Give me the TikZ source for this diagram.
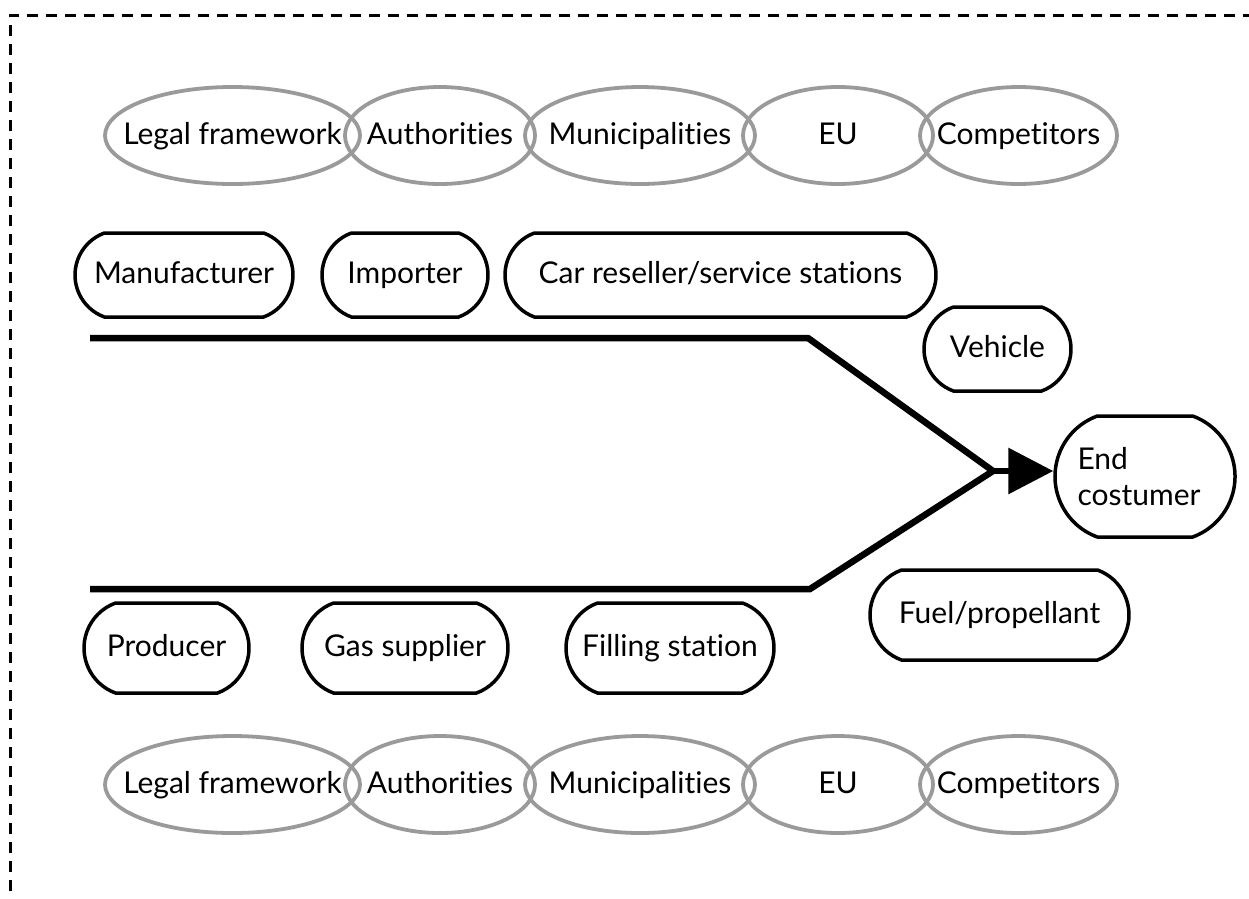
\documentclass[tikz,border=0pt]{standalone}
\usepackage{fontspec}
\setmainfont{Lato}[Ligatures=NoCommon]
\usepackage{xcolor}
\usepackage{tikz}
\usetikzlibrary{positioning, arrows.meta, shapes.geometric, shapes.misc}
\definecolor{ringgray}{HTML}{9A9A9A}
\newcommand{\nowidth}[1]{\makebox[0pt]{#1}}
\tikzset{
  party/.style={ellipse, draw=ringgray, line width=3.8pt, inner sep=0pt, minimum height=97pt,
                text height=22pt, text depth=4pt},
  actorbase/.style={rounded rectangle, rounded rectangle arc length=140, draw, line width=3.5pt,
                inner xsep=2pt, minimum height=84pt},
  actor/.style={actorbase, text height=22pt, text depth=6pt},
  flow/.style={line width=6.5pt, line join=miter}
}

\begin{document}
\begin{tikzpicture}[x=1pt, y=-1pt, font=\fontsize{30}{36}\selectfont]
    \useasboundingbox (0,0) rectangle (1249,898);
    \draw[line width=3pt, dash pattern=on 11pt off 8pt] (10,910) |- (1260,15);

    \foreach \row/\y in {top/135.5, bottom/784.5}{
      \node[party, minimum width=255pt] (legal-\row) at (232.5,\y) {\nowidth{Legal framework}};
      \node[party, minimum width=190pt] (authorities-\row) at (440,\y) {\nowidth{Authorities}};
      \node[party, minimum width=230pt] (municipalities-\row) at (640,\y) {\nowidth{Municipalities}};
      \node[party, minimum width=190pt] (eu-\row) at (838,\y) {\nowidth{EU}};
      \node[party, minimum width=197pt] (competitors-\row) at (1018.5,\y) {\nowidth{Competitors}};
    }

    \node[actor, minimum width=222pt] (manufacturer) at (184,275) {Manufacturer};
    \node[actor, minimum width=170pt] (importer) at (405,275) {Importer};
    \node[actor, minimum width=435pt] (reseller) at (720.5,275) {Car reseller/service stations};
    \node[actor, minimum width=151pt] (vehicle) at (997.5,349) {Vehicle};
    \node[actorbase, minimum width=184pt, minimum height=121pt, align=left] (customer) at (1145,476.5) {End\\costumer\hspace*{12pt}};
    \node[actor, minimum width=263pt, minimum height=90pt] (fuel) at (999.5,615) {Fuel/propellant};
    \node[actor, minimum width=169pt, minimum height=90pt] (producer) at (166.5,648) {Producer};
    \node[actor, minimum width=210pt, minimum height=90pt] (gas) at (405,648) {Gas supplier};
    \node[actor, minimum width=212pt, minimum height=90pt] (filling) at (670,648) {Filling station};

    \coordinate (upper-start) at (90,338);
    \coordinate (upper-bend) at (808,338);
    \coordinate (merge) at (993,471);
    \coordinate (lower-bend) at (810,589);
    \coordinate (lower-start) at (90,589);
    \draw[flow] (upper-start) -- (upper-bend) -- (merge) -- (lower-bend) -- (lower-start);
    \draw[flow, -{Triangle[length=45pt, width=45pt]}] (merge) -- (merge -| customer.west);
  \end{tikzpicture}
\end{document}
